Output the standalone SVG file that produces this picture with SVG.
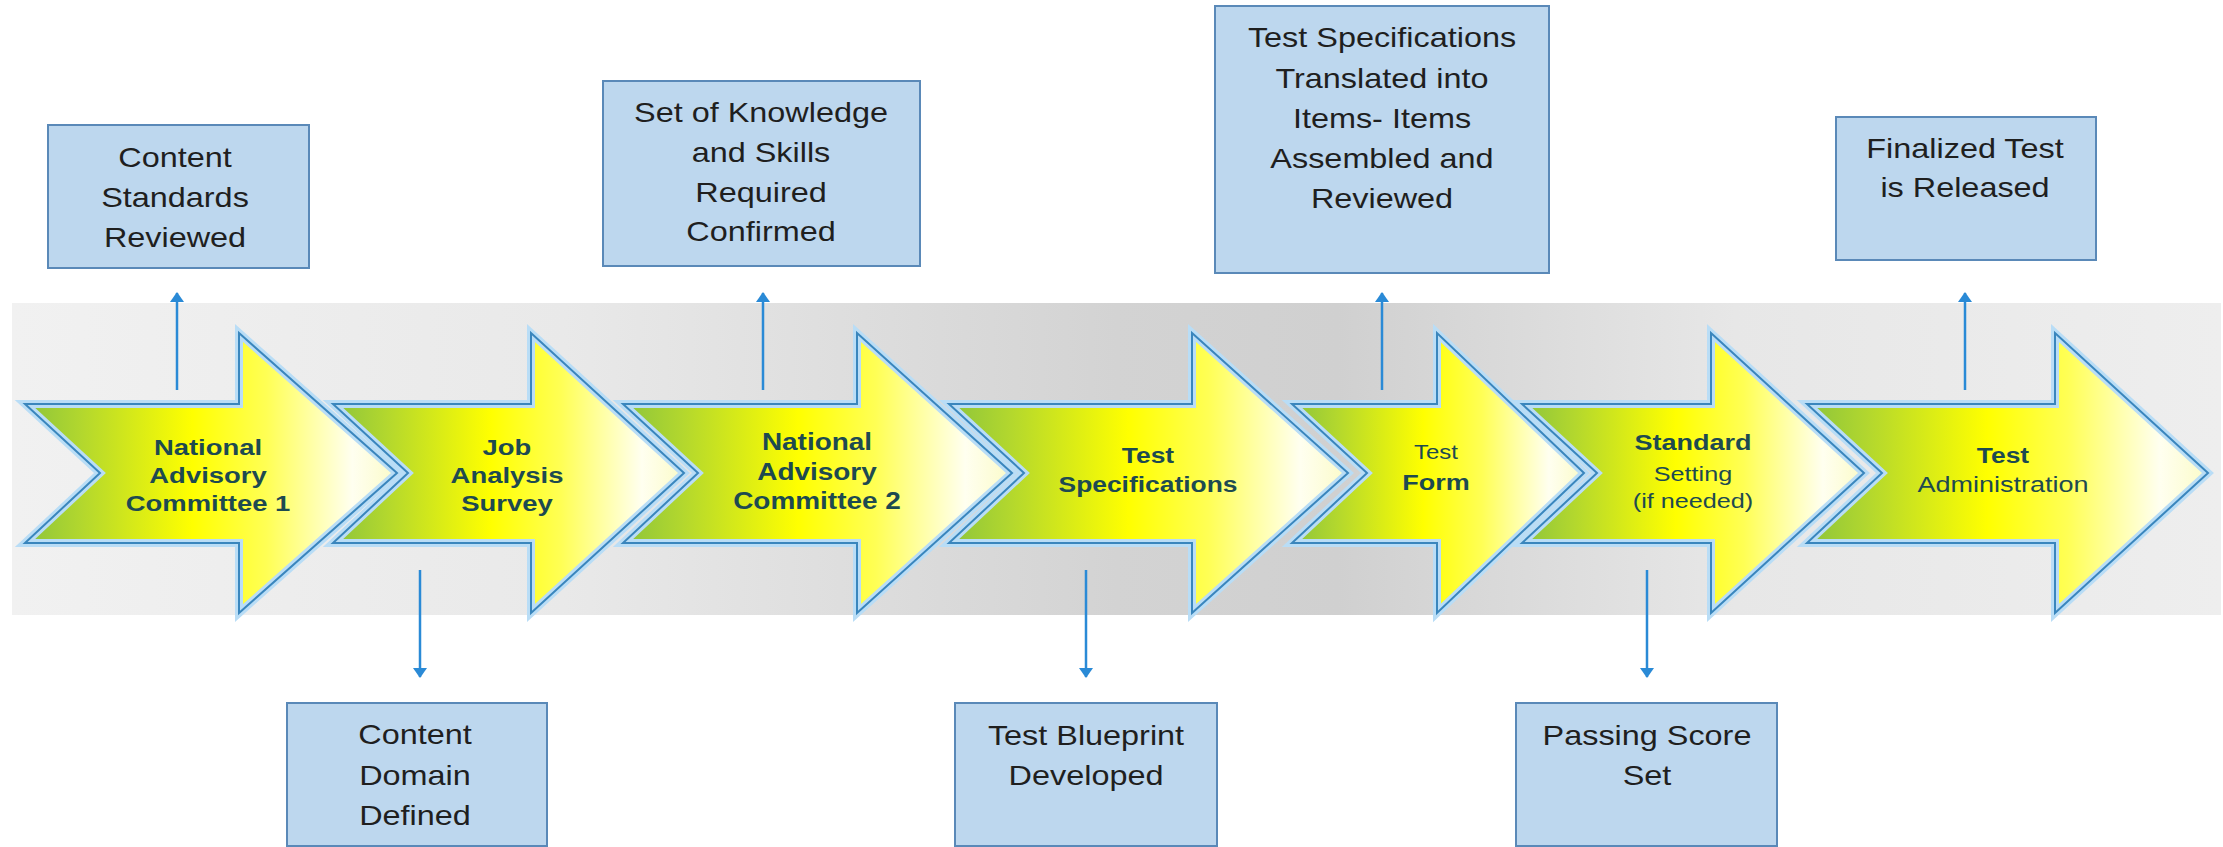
<svg xmlns="http://www.w3.org/2000/svg" width="2223" height="847" viewBox="0 0 2223 847">
<defs>
<linearGradient id="ag" x1="0" y1="0" x2="1" y2="0">
<stop offset="0" stop-color="#8cc43c"/>
<stop offset="0.15" stop-color="#b2d72e"/>
<stop offset="0.45" stop-color="#ffff00"/>
<stop offset="0.65" stop-color="#ffff55"/>
<stop offset="0.88" stop-color="#fffff0"/>
<stop offset="1" stop-color="#fbfbc8"/>
</linearGradient>
<linearGradient id="bg" gradientUnits="userSpaceOnUse" x1="12" y1="0" x2="2221" y2="0">
<stop offset="0" stop-color="#f1f1f1"/>
<stop offset="0.25" stop-color="#e9e9e9"/>
<stop offset="0.5" stop-color="#d3d3d3"/>
<stop offset="0.6" stop-color="#d0d0d0"/>
<stop offset="0.78" stop-color="#e7e7e7"/>
<stop offset="1" stop-color="#eeeeee"/>
</linearGradient>
<marker id="ah" viewBox="0 0 10 14" refX="9" refY="7" markerWidth="10" markerHeight="14" markerUnits="userSpaceOnUse" orient="auto">
<path d="M0,0 L10,7 L0,14 Z" fill="#2a8ad6"/>
</marker>
</defs>
<style>
.glow{fill:url(#ag);stroke:#b9ddf6;stroke-width:8;stroke-linejoin:miter}
.edge{fill:none;stroke:#3a86bd;stroke-width:2;stroke-linejoin:miter}
.at{font-family:"Liberation Sans",Arial,sans-serif;font-weight:bold;font-size:22.5px;fill:#1d4a50;text-anchor:middle}
.ar{font-family:"Liberation Sans",Arial,sans-serif;font-weight:normal;font-size:21px;fill:#1d4a50;text-anchor:middle}
.box{fill:#bdd7ee;stroke:#5a89b8;stroke-width:2}
.bt{font-family:"Liberation Sans",Arial,sans-serif;font-size:27px;fill:#1f1f1f;text-anchor:middle}
.con{stroke:#2a8ad6;stroke-width:2.5;fill:none;marker-end:url(#ah)}
</style>
<rect width="2223" height="847" fill="#ffffff"/>
<g id="band"><rect x="12" y="303" width="2209" height="312" fill="url(#bg)"/></g>
<g id="connectors">
<line class="con" x1="177" y1="390" x2="177" y2="293"/>
<line class="con" x1="763" y1="390" x2="763" y2="293"/>
<line class="con" x1="1382" y1="390" x2="1382" y2="293"/>
<line class="con" x1="1965" y1="390" x2="1965" y2="293"/>
<line class="con" x1="420" y1="570" x2="420" y2="677"/>
<line class="con" x1="1086" y1="570" x2="1086" y2="677"/>
<line class="con" x1="1647" y1="570" x2="1647" y2="677"/>
</g>
<g id="step1">
<path class="glow" d="M25,404 H239 V333 L397,473 L239,613 V543 H25 L100,473 Z"/>
<path class="edge" d="M25,404 H239 V333 L397,473 L239,613 V543 H25 L100,473 Z"/>
<g transform="translate(208 0) scale(1.22 1)"><text class="at" x="0" y="455">National</text><text class="at" x="0" y="483">Advisory</text><text class="at" x="0" y="511">Committee 1</text></g>
</g>
<g id="step2">
<path class="glow" d="M333,404 H531 V333 L684,473 L531,613 V543 H333 L408,473 Z"/>
<path class="edge" d="M333,404 H531 V333 L684,473 L531,613 V543 H333 L408,473 Z"/>
<g transform="translate(507 0) scale(1.22 1)"><text class="at" x="0" y="455">Job</text><text class="at" x="0" y="483">Analysis</text><text class="at" x="0" y="511">Survey</text></g>
</g>
<g id="step3">
<path class="glow" d="M623,404 H857 V333 L1012,473 L857,613 V543 H623 L698,473 Z"/>
<path class="edge" d="M623,404 H857 V333 L1012,473 L857,613 V543 H623 L698,473 Z"/>
<g transform="translate(817 0) scale(1.19 1)"><text class="at" x="0" y="450" style="font-size:23.5px">National</text><text class="at" x="0" y="480" style="font-size:23.5px">Advisory</text><text class="at" x="0" y="509" style="font-size:23.5px">Committee 2</text></g>
</g>
<g id="step4">
<path class="glow" d="M949,404 H1192 V333 L1348,473 L1192,613 V543 H949 L1024,473 Z"/>
<path class="edge" d="M949,404 H1192 V333 L1348,473 L1192,613 V543 H949 L1024,473 Z"/>
<g transform="translate(1148 0) scale(1.2 1)"><text class="at" x="0" y="463" style="font-size:22px">Test</text><text class="at" x="0" y="492" style="font-size:22px">Specifications</text></g>
</g>
<g id="step5">
<path class="glow" d="M1292,404 H1437 V333 L1584,473 L1437,613 V543 H1292 L1367,473 Z"/>
<path class="edge" d="M1292,404 H1437 V333 L1584,473 L1437,613 V543 H1292 L1367,473 Z"/>
<g transform="translate(1436 0) scale(1.2 1)"><text class="ar" x="0" y="459" style="font-size:20px">Test</text><text class="at" x="0" y="490" style="font-size:22.5px">Form</text></g>
</g>
<g id="step6">
<path class="glow" d="M1522,404 H1711 V333 L1864,473 L1711,613 V543 H1522 L1597,473 Z"/>
<path class="edge" d="M1522,404 H1711 V333 L1864,473 L1711,613 V543 H1522 L1597,473 Z"/>
<g transform="translate(1693 0) scale(1.2 1)"><text class="at" x="0" y="450" style="font-size:22.5px">Standard</text><text class="ar" x="0" y="481">Setting</text><text class="ar" x="0" y="508">(if needed)</text></g>
</g>
<g id="step7">
<path class="glow" d="M1807,404 H2055 V333 L2208,473 L2055,613 V543 H1807 L1882,473 Z"/>
<path class="edge" d="M1807,404 H2055 V333 L2208,473 L2055,613 V543 H1807 L1882,473 Z"/>
<g transform="translate(2003 0) scale(1.2 1)"><text class="at" x="0" y="463" style="font-size:22px">Test</text><text class="ar" x="0" y="492" style="font-size:22.5px">Administration</text></g>
</g>
<g id="box1">
<rect class="box" x="48" y="125" width="261" height="143"/>
<g transform="translate(175 0) scale(1.2 1)"><text class="bt" x="0" y="167">Content</text><text class="bt" x="0" y="207">Standards</text><text class="bt" x="0" y="247">Reviewed</text></g>
</g>
<g id="box2">
<rect class="box" x="603" y="81" width="317" height="185"/>
<g transform="translate(761 0) scale(1.2 1)"><text class="bt" x="0" y="122">Set of Knowledge</text><text class="bt" x="0" y="162">and Skills</text><text class="bt" x="0" y="202">Required</text><text class="bt" x="0" y="241">Confirmed</text></g>
</g>
<g id="box3">
<rect class="box" x="1215" y="6" width="334" height="267"/>
<g transform="translate(1382 0) scale(1.2 1)"><text class="bt" x="0" y="47">Test Specifications</text><text class="bt" x="0" y="88">Translated into</text><text class="bt" x="0" y="128">Items- Items</text><text class="bt" x="0" y="168">Assembled and</text><text class="bt" x="0" y="208">Reviewed</text></g>
</g>
<g id="box4">
<rect class="box" x="1836" y="117" width="260" height="143"/>
<g transform="translate(1965 0) scale(1.2 1)"><text class="bt" x="0" y="158">Finalized Test</text><text class="bt" x="0" y="197">is Released</text></g>
</g>
<g id="box5">
<rect class="box" x="287" y="703" width="260" height="143"/>
<g transform="translate(415 0) scale(1.2 1)"><text class="bt" x="0" y="744">Content</text><text class="bt" x="0" y="785">Domain</text><text class="bt" x="0" y="825">Defined</text></g>
</g>
<g id="box6">
<rect class="box" x="955" y="703" width="262" height="143"/>
<g transform="translate(1086 0) scale(1.2 1)"><text class="bt" x="0" y="745">Test Blueprint</text><text class="bt" x="0" y="785">Developed</text></g>
</g>
<g id="box7">
<rect class="box" x="1516" y="703" width="261" height="143"/>
<g transform="translate(1647 0) scale(1.2 1)"><text class="bt" x="0" y="745">Passing Score</text><text class="bt" x="0" y="785">Set</text></g>
</g>
</svg>
